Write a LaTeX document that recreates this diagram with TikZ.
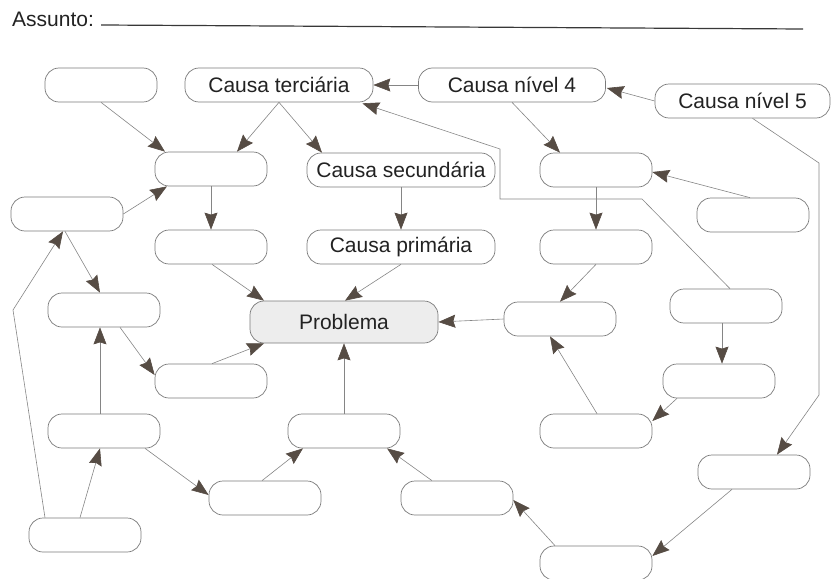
\documentclass[tikz,border=0pt]{standalone}
\usepackage{fontspec}
\setmainfont{Liberation Sans}
\usetikzlibrary{arrows.meta,calc}

\definecolor{boxline}{HTML}{7A7A7A}
\definecolor{wire}{HTML}{858585}
\definecolor{tipc}{HTML}{564C44}
\definecolor{inkc}{HTML}{222222}
\definecolor{probfill}{HTML}{EDEDED}

\tikzset{
  box/.style={draw=boxline, line width=0.7pt, rounded corners=14pt,
    minimum width=112pt, minimum height=34pt, inner sep=0pt,
    text=inkc, font=\fontsize{21}{24}\selectfont},
  wide/.style={box, minimum width=188pt},
  link/.style={draw=wire, line width=0.6pt,
    -{Stealth[length=17pt, width=13pt, inset=2pt, color=tipc, fill=tipc]}},
}

\begin{document}
\begin{tikzpicture}[x=1pt, y=-1pt]
\useasboundingbox (0,0) rectangle (832,578);

% heading
\node[anchor=base west, inner sep=0pt, text=inkc, font=\fontsize{21}{24}\selectfont]
  (title) at (12,27) {Assunto:};
\coordinate (lineend) at (803,29);
\draw[inkc!90, line width=1.2pt] ($(title.base east)+(7,-2)$) -- (lineend);

% boxes, top to bottom
\node[box]  (a1)  at (101,85)  {};
\node[wide] (ter) at (279,85)  {Causa terciária};
\node[wide, minimum width=187pt] (n4) at (512,85) {Causa nível 4};
\node[box, minimum width=175pt, minimum height=34pt] (n5) at (742.5,101) {Causa nível 5};

\node[box]  (b1)  at (211,169) {};
\node[wide] (sec) at (401,170) {Causa secundária};
\node[box]  (c1)  at (596,170) {};

\node[box]  (l1)  at (67,214)  {};
\node[box]  (r1)  at (753,215) {};

\node[box]  (b2)  at (211,247) {};
\node[wide] (pri) at (401,247) {Causa primária};
\node[box]  (c2)  at (596,247) {};

\node[box]  (r2)  at (726,306) {};
\node[box]  (l2)  at (104,310) {};
\node[wide, minimum height=42pt, fill=probfill] (prob) at (344,322) {Problema};
\node[box]  (m)   at (560,319) {};

\node[box]  (l3)  at (211,381) {};
\node[box]  (r3)  at (719,381) {};

\node[box]  (l4)  at (104,431) {};
\node[box]  (mid) at (344,431) {};
\node[box]  (r4)  at (596,431) {};

\node[box]  (r5)  at (754,472) {};
\node[box]  (bl)  at (265,498) {};
\node[box]  (br)  at (457,498) {};

\node[box]  (l5)  at (85,535)  {};
\node[box]  (bot) at (596,563) {};

% connectors
\draw[link] (n4.west) -- (ter.east);
\draw[link] (n5.west) -- ($(n4.east)+(1,3)$);
\draw[link] (a1.south) -- ($(b1.north)+(-46,0)$);
\draw[link] (ter.south) -- ($(b1.north)+(26,0)$);
\draw[link] (ter.south) -- ($(sec.north)+(-79,0)$);
\draw[link] ($(r2.north)+(4,0)$) -- (642,199) -- (500,199) -- (500,149)
  -- ($(ter.south east)+(-11,1)$);
\draw[link] (n4.south) -- ($(c1.north)+(-36,0)$);
\draw[link] ($(r1.north)+(-3,0)$) -- ($(c1.east)+(0,2)$);
\draw[link] ($(n5.south)+(10,0)$) -- (819,163) -- (819,395)
  -- ($(r5.north)+(23,0)$);
\draw[link] (b1.south) -- (b2.north);
\draw[link] (sec.south) -- (pri.north);
\draw[link] (c1.south) -- (c2.north);
\draw[link] (l1.east) -- ($(b1.south)+(-44,0)$);
\draw[link] ($(l1.south)+(-2,0)$) -- ($(l2.north)+(-4,0)$);
\draw[link] ($(l5.north)+(-40,0)$) -- (13,310) -- ($(l1.south)+(-4,0)$);
\draw[link] ($(b2.south)+(1,0)$) -- ($(prob.north)+(-80,0)$);
\draw[link] (pri.south) -- ($(prob.north)+(1,0)$);
\draw[link] (m.west) -- (prob.east);
\draw[link] (c2.south) -- (m.north);
\draw[link] ($(l2.south)+(16,0)$) -- ($(l3.west)+(0,-6)$);
\draw[link] ($(l3.north)+(1,0)$) -- ($(prob.south)+(-80,0)$);
\draw[link] ($(l4.north)+(-4,0)$) -- ($(l2.south)+(-4,0)$);
\draw[link] (mid.north) -- (prob.south);
\draw[link] ($(r2.south)+(-4,0)$) -- ($(r3.north)+(3,0)$);
\draw[link] ($(r4.north)+(1,0)$) -- ($(m.south)+(-10,0)$);
\draw[link] ($(r3.south)+(-42,0)$) -- ($(r4.east)+(0,-10)$);
\draw[link] ($(l5.north)+(-5,0)$) -- ($(l4.south)+(-4,0)$);
\draw[link] ($(l4.south)+(41,0)$) -- ($(bl.west)+(0,-3)$);
\draw[link] ($(bl.north)+(-3,0)$) -- ($(mid.south)+(-41,0)$);
\draw[link] ($(br.north)+(-25,0)$) -- ($(mid.south)+(43,0)$);
\draw[link] ($(bot.north)+(-41,0)$) -- ($(br.east)+(0,2)$);
\draw[link] ($(r5.south)+(-22,0)$) -- ($(bot.east)+(0,-7)$);
\end{tikzpicture}
\end{document}
